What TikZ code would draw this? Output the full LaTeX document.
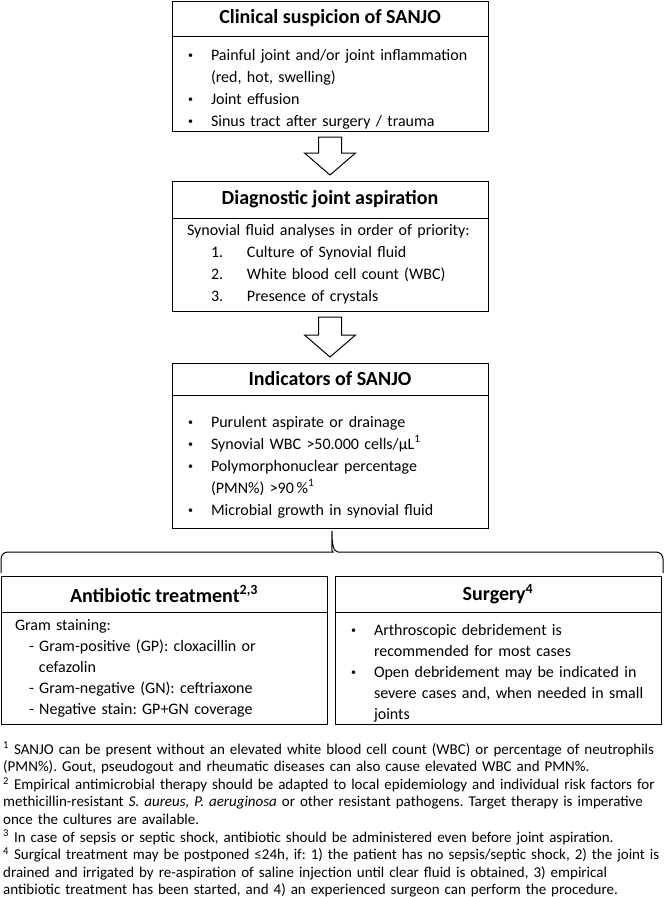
\documentclass[tikz,border=0pt]{standalone}
\usepackage{fontspec}
\setmainfont{Carlito}
\usepackage{tikz}
\usetikzlibrary{positioning,calc}
\tikzset{
node distance=50pt,
head/.style={draw,line width=1pt,outer sep=0pt,inner sep=0pt,align=center,
  font=\fontsize{20}{24}\selectfont\bfseries},
body/.style={draw,line width=1pt,outer sep=0pt,inner xsep=15pt,inner ysep=0pt,align=left,
  font=\fontsize{16}{22}\selectfont},
hollow/.style={draw,line width=1pt,fill=white,line join=miter},
brace/.style={draw,line width=1pt}
}
\newcommand\dotmark{\raisebox{1.3pt}{\fontsize{10}{10}\selectfont\textbullet}}
\newcommand\bul{\par\hangindent=24pt\hangafter=1\noindent\makebox[24pt][l]{\hspace*{1pt}\dotmark}}
\newcommand\num[1]{\par\noindent\hspace*{24pt}\makebox[36pt][l]{#1}}

\begin{document}
\frenchspacing
\begin{tikzpicture}[x=1pt,y=-1pt]
\useasboundingbox (0,0) rectangle (664,897);
% main chain
\node[head,minimum width=316pt,minimum height=35pt,anchor=north] (h1) at (330,1) {Clinical suspicion of SANJO};
\node[body,text width=286pt,minimum height=95pt,below=0pt of h1] (c1)
  {\bul Painful joint and/or joint inflammation\newline (red, hot, swelling)\bul Joint effusion\bul Sinus tract after surgery / trauma\par};
\node[head,minimum width=316pt,minimum height=37pt,below=50pt of c1] (h2) {Diagnostic joint aspiration};
\node[body,text width=286pt,minimum height=93pt,below=0pt of h2] (c2)
  {\noindent Synovial fluid analyses in order of priority:\num{1.}Culture of Synovial fluid\num{2.}White blood cell count (WBC)\num{3.}Presence of crystals\par};
\node[head,minimum width=316pt,minimum height=32pt,below=52pt of c2] (h3) {Indicators of SANJO};
\node[body,text width=286pt,minimum height=133pt,below=0pt of h3] (c3)
  {\bul Purulent aspirate or drainage\bul Synovial WBC >50.000 cells/μL\textsuperscript{1}\bul Polymorphonuclear percentage\newline (PMN\%) >90\,\%\textsuperscript{1}\bul Microbial growth in synovial fluid\par\vspace*{8pt}};
% treatment
\node[head,minimum width=326pt,minimum height=36pt,anchor=north] (h4) at (164,576) {Antibiotic treatment\textsuperscript{2,3}};
\node[body,text width=298pt,minimum height=112pt,below=0pt of h4,inner xsep=14pt,font=\fontsize{16}{21}\selectfont] (c4)
  {\noindent Gram staining:\par\noindent\hspace*{14pt}- Gram-positive (GP): cloxacillin or\par\noindent\hspace*{24pt}cefazolin\par\noindent\hspace*{14pt}- Gram-negative (GN): ceftriaxone\par\noindent\hspace*{14pt}- Negative stain: GP+GN coverage\par};
\node[head,minimum width=326pt,minimum height=36pt,right=8pt of h4] (h5) {Surgery\textsuperscript{4}};
\node[body,text width=296pt,minimum height=112pt,below=0pt of h5,font=\fontsize{16}{21}\selectfont] (c5)
  {\bul Arthroscopic debridement is\newline recommended for most cases\bul Open debridement may be indicated in\newline severe cases and, when needed in small\newline joints\par};
% block arrows
\foreach \a/\b in {c1/h2,c2/h3}
  \draw[hollow] ($(\a.south)+(-11.5,6)$) -- ($(\b.north)+(-11.5,-28)$) -- ++(-14,0) -- ($(\b.north)+(0,-6)$)
    -- ($(\b.north)+(25.5,-28)$) -- ++(-14,0) -- ($(\a.south)+(11.5,6)$) -- cycle;
% brace
\coordinate (tip) at ($(c3.south)+(2,3)$);
\draw[brace] ($(h4.north west)+(0,-3)$) [rounded corners=7pt] |- ($(tip)+(-6,21)$) [sharp corners]
  .. controls +(5,0) and +(0,12) .. (tip) .. controls +(0,12) and +(-5,0) .. ($(tip)+(6,21)$)
  [rounded corners=7pt] -| ($(h5.north east)+(2,-3)$);
% footnotes
\node[anchor=north west,inner sep=0pt,text width=660pt,align=left,font=\fontsize{15}{17.6}\selectfont] (fn) at (3,742)
  {\setlength{\lineskiplimit}{-6pt}\textsuperscript{1} SANJO can be present without an elevated white blood cell count (WBC) or percentage of neutrophils\\
  (PMN\%). Gout, pseudogout and rheumatic diseases can also cause elevated WBC and PMN\%.\\
  \textsuperscript{2} Empirical antimicrobial therapy should be adapted to local epidemiology and individual risk factors for\\
  methicillin-resistant \textit{S. aureus, P. aeruginosa} or other resistant pathogens. Target therapy is imperative\\
  once the cultures are available.\\
  \textsuperscript{3} In case of sepsis or septic shock, antibiotic should be administered even before joint aspiration.\\
  \textsuperscript{4} Surgical treatment may be postponed ≤24h, if: 1) the patient has no sepsis/septic shock, 2) the joint is\\
  drained and irrigated by re-aspiration of saline injection until clear fluid is obtained, 3) empirical\\
  antibiotic treatment has been started, and 4) an experienced surgeon can perform the procedure.};
\end{tikzpicture}
\end{document}
